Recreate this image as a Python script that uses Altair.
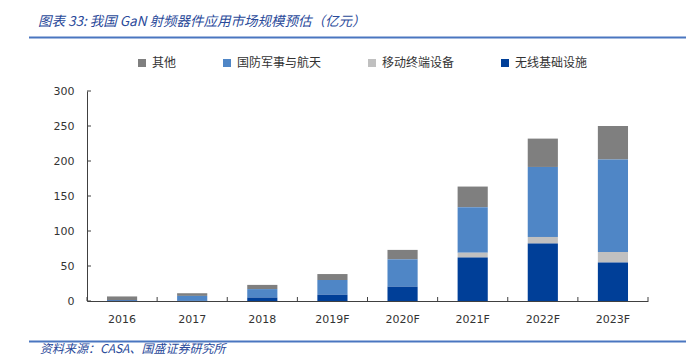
import altair as alt
import pandas as pd

categories = ["2016", "2017", "2018", "2019F", "2020F", "2021F", "2022F", "2023F"]
series_names = ["其他", "国防军事与航天", "移动终端设备", "无线基础设施"]
series_colors = ["#7f7f7f", "#4f86c6", "#c0c0c0", "#003f98"]
wireless = [0.8, 0.3, 5, 9, 20.5, 62, 82, 55]
mobile = [0, 0, 0, 0, 0, 7, 9.5, 15]
defense = [0.5, 7, 12, 21, 39, 65, 100, 132]
other = [5.2, 3.8, 6, 8.5, 13.5, 29.5, 40.5, 48]
y_ticks = [0, 50, 100, 150, 200, 250, 300]
title_text = ["图表 33: 我国 GaN 射频器件应用市场规模预估（亿元）"]
source_text = ["资料来源：CASA、国盛证券研究所"]

W, H = 561, 210

rows = []
series_values = {"其他": other, "国防军事与航天": defense, "移动终端设备": mobile, "无线基础设施": wireless}
stack_order = {"无线基础设施": 0, "移动终端设备": 1, "国防军事与航天": 2, "其他": 3}
for name in series_names:
    for c, v in zip(categories, series_values[name]):
        rows.append({"cat": c, "series": name, "value": v, "ord": stack_order[name]})
df = pd.DataFrame(rows)

xscale = alt.Scale(domain=categories, paddingInner=0, paddingOuter=0)
yscale = alt.Scale(domain=[0, 300], nice=False)

x_axis = alt.Axis(title=None, labelAngle=0, ticks=False, labelPadding=12,
                  domainColor="#404040", labelFont="DejaVu Sans", labelFontSize=11,
                  labelColor="#333333", grid=False)
y_axis = alt.Axis(title=None, values=y_ticks, ticks=False, labelPadding=13,
                  labelOverlap=False,
                  domainColor="#404040", labelFont="DejaVu Sans", labelFontSize=11,
                  labelColor="#333333", grid=False)

bars = alt.Chart(df).mark_bar(width=alt.RelativeBandSize(0.43)).encode(
    x=alt.X("cat:N", scale=xscale, axis=x_axis),
    y=alt.Y("value:Q", stack="zero", scale=yscale, axis=y_axis),
    color=alt.Color("series:N",
                    scale=alt.Scale(domain=series_names, range=series_colors),
                    legend=alt.Legend(title=None, orient="none", direction="horizontal",
                                      legendX=49, legendY=-34, symbolType="square",
                                      symbolSize=64, symbolStrokeWidth=0,
                                      labelFont="Noto Sans CJK SC", labelFontSize=12,
                                      labelColor="#333333", columnPadding=44,
                                      labelOffset=4)),
    order=alt.Order("ord:Q", sort="ascending"),
)

cat_df = pd.DataFrame({"cat": categories})
last_df = pd.DataFrame({"cat": categories[-1:]})
xticks = alt.Chart(cat_df).mark_rule(color="#404040").encode(
    x=alt.X("cat:N", scale=xscale, bandPosition=0, axis=x_axis),
    y=alt.value(H), y2=alt.value(H - 4),
)
xtick_last = alt.Chart(last_df).mark_rule(color="#404040").encode(
    x=alt.X("cat:N", scale=xscale, bandPosition=1, axis=x_axis),
    y=alt.value(H), y2=alt.value(H - 4),
)
yt_df = pd.DataFrame({"v": y_ticks})
yticks = alt.Chart(yt_df).mark_rule(color="#404040").encode(
    y=alt.Y("v:Q", scale=yscale, axis=y_axis),
    x=alt.value(0), x2=alt.value(4),
)

title_df = pd.DataFrame({"t": title_text})
title = alt.Chart(title_df).mark_text(
    align="left", baseline="middle", font="Noto Sans CJK SC", fontSize=13.5,
    fontStyle="italic", color="#2a4a9a"
).encode(text="t:N", x=alt.value(-49), y=alt.value(-69))

src_df = pd.DataFrame({"t": source_text})
source = alt.Chart(src_df).mark_text(
    align="left", baseline="middle", font="Noto Sans CJK SC", fontSize=12,
    fontStyle="italic", color="#2a4a9a"
).encode(text="t:N", x=alt.value(-47), y=alt.value(258))

line_top = alt.Chart(title_df).mark_rule(color="#4a76c0", strokeWidth=2).encode(
    x=alt.value(-58), x2=alt.value(W + 40), y=alt.value(-53.5)
)
line_bot = alt.Chart(title_df).mark_rule(color="#4a76c0", strokeWidth=2).encode(
    x=alt.value(-58), x2=alt.value(W + 40), y=alt.value(250.5)
)

chart = alt.layer(bars, xticks, xtick_last, yticks, title, source, line_top, line_bot).properties(
    width=W, height=H,
    autosize=alt.AutoSizeParams(type="none"),
    padding={"left": 87, "top": 91, "right": 38, "bottom": 55},
).configure_view(stroke=None)

chart.save("out.html", embed_options={"renderer": "svg", "actions": False})
